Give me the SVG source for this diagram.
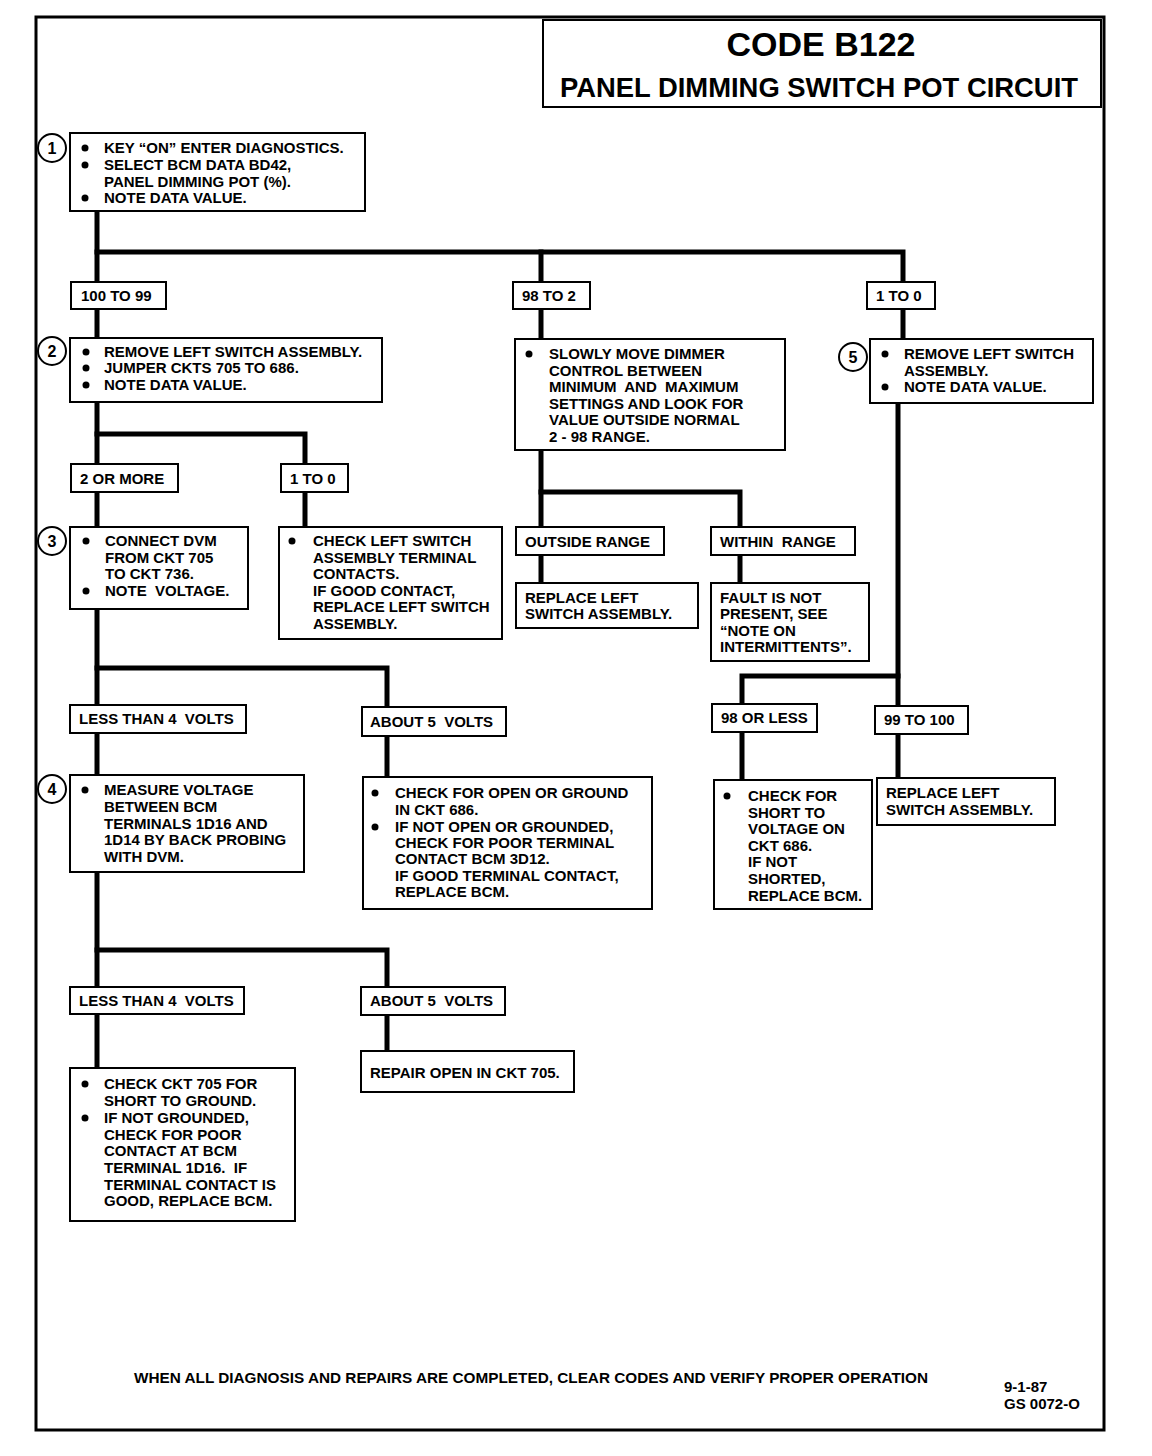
<svg xmlns="http://www.w3.org/2000/svg" width="1152" height="1456" viewBox="0 0 1152 1456">
<style>
  text { font-family: "Liberation Sans", Arial, sans-serif; font-weight: bold; font-size: 15px; fill: #000; white-space: pre; }
  .box { fill: #fff; stroke: #000; stroke-width: 2; }
  .conn { fill: none; stroke: #000; stroke-width: 5; stroke-linecap: square; }
  .num { font-size: 16px; text-anchor: middle; }
  .t1 { font-size: 34px; text-anchor: middle; }
  .t2 { font-size: 28px; text-anchor: middle; }
  .foot { font-size: 14px; }
  .date { font-size: 15px; }
  .frame { fill: none; stroke: #000; stroke-width: 3; }
</style>
<rect x="0" y="0" width="1152" height="1456" fill="#fff"/>
<rect class="frame" x="36" y="17" width="1068" height="1413"/>

<g id="title">
  <rect class="box" x="543" y="20" width="558" height="87"/>
  <text class="t1" x="821" y="56">CODE B122</text>
  <text class="t2" x="819" y="97" textLength="518" lengthAdjust="spacingAndGlyphs">PANEL DIMMING SWITCH POT CIRCUIT</text>
</g>

<g id="connectors">
  <path class="conn" d="M97 211 V1068"/>
  <path class="conn" d="M97 252 H903 V339"/>
  <path class="conn" d="M541 252 V583"/>
  <path class="conn" d="M97 434 H305 V527"/>
  <path class="conn" d="M541 492 H740 V583"/>
  <path class="conn" d="M898 403 V778"/>
  <path class="conn" d="M898 676 H742 V780"/>
  <path class="conn" d="M97 668 H387 V777"/>
  <path class="conn" d="M97 950 H387 V1051"/>
</g>

<g id="n1">
  <circle class="box" cx="52" cy="148" r="14"/>
  <text class="num" x="52" y="154">1</text>
  <rect class="box" x="70" y="133" width="295" height="78"/>
  <circle cx="85" cy="148" r="3.5"/><circle cx="85" cy="165" r="3.5"/><circle cx="85" cy="198" r="3.5"/>
  <text x="104" y="153">KEY “ON” ENTER DIAGNOSTICS.</text>
  <text x="104" y="170">SELECT BCM DATA BD42,</text>
  <text x="104" y="187">PANEL DIMMING POT (%).</text>
  <text x="104" y="203">NOTE DATA VALUE.</text>
</g>

<g id="l100to99">
  <rect class="box" x="71" y="282" width="95" height="27"/>
  <text x="81" y="301">100 TO 99</text>
</g>
<g id="l98to2">
  <rect class="box" x="513" y="282" width="77" height="27"/>
  <text x="522" y="301">98 TO 2</text>
</g>
<g id="l1to0a">
  <rect class="box" x="867" y="282" width="68" height="27"/>
  <text x="876" y="301">1 TO 0</text>
</g>

<g id="n2">
  <circle class="box" cx="52" cy="351" r="14"/>
  <text class="num" x="52" y="357">2</text>
  <rect class="box" x="70" y="338" width="312" height="64"/>
  <circle cx="86" cy="352" r="3.5"/><circle cx="86" cy="368" r="3.5"/><circle cx="86" cy="385" r="3.5"/>
  <text x="104" y="357">REMOVE LEFT SWITCH ASSEMBLY.</text>
  <text x="104" y="373">JUMPER CKTS 705 TO 686.</text>
  <text x="104" y="390">NOTE DATA VALUE.</text>
</g>

<g id="nslowly">
  <rect class="box" x="515" y="339" width="270" height="111"/>
  <circle cx="529" cy="354" r="3.5"/>
  <text x="549" y="359">SLOWLY MOVE DIMMER</text>
  <text x="549" y="376">CONTROL BETWEEN</text>
  <text x="549" y="392">MINIMUM  AND  MAXIMUM</text>
  <text x="549" y="409">SETTINGS AND LOOK FOR</text>
  <text x="549" y="425">VALUE OUTSIDE NORMAL</text>
  <text x="549" y="442">2 - 98 RANGE.</text>
</g>

<g id="n5">
  <circle class="box" cx="853" cy="357" r="14"/>
  <text class="num" x="853" y="363">5</text>
  <rect class="box" x="870" y="339" width="223" height="64"/>
  <circle cx="885" cy="354" r="3.5"/><circle cx="885" cy="387" r="3.5"/>
  <text x="904" y="359">REMOVE LEFT SWITCH</text>
  <text x="904" y="376">ASSEMBLY.</text>
  <text x="904" y="392">NOTE DATA VALUE.</text>
</g>

<g id="l2ormore">
  <rect class="box" x="71" y="464" width="107" height="28"/>
  <text x="80" y="484">2 OR MORE</text>
</g>
<g id="l1to0b">
  <rect class="box" x="281" y="464" width="67" height="28"/>
  <text x="290" y="484">1 TO 0</text>
</g>

<g id="n3">
  <circle class="box" cx="52" cy="541" r="14"/>
  <text class="num" x="52" y="547">3</text>
  <rect class="box" x="70" y="527" width="178" height="82"/>
  <circle cx="86" cy="541" r="3.5"/><circle cx="86" cy="591" r="3.5"/>
  <text x="105" y="546">CONNECT DVM</text>
  <text x="105" y="563">FROM CKT 705</text>
  <text x="105" y="579">TO CKT 736.</text>
  <text x="105" y="596">NOTE  VOLTAGE.</text>
</g>

<g id="ncheckleft">
  <rect class="box" x="279" y="527" width="223" height="112"/>
  <circle cx="292" cy="541" r="3.5"/>
  <text x="313" y="546">CHECK LEFT SWITCH</text>
  <text x="313" y="563">ASSEMBLY TERMINAL</text>
  <text x="313" y="579">CONTACTS.</text>
  <text x="313" y="596">IF GOOD CONTACT,</text>
  <text x="313" y="612">REPLACE LEFT SWITCH</text>
  <text x="313" y="629">ASSEMBLY.</text>
</g>

<g id="loutside">
  <rect class="box" x="516" y="527" width="148" height="28"/>
  <text x="525" y="547">OUTSIDE RANGE</text>
</g>
<g id="lwithin">
  <rect class="box" x="711" y="527" width="144" height="28"/>
  <text x="720" y="547">WITHIN  RANGE</text>
</g>

<g id="nreplace1">
  <rect class="box" x="516" y="583" width="182" height="45"/>
  <text x="525" y="603">REPLACE LEFT</text>
  <text x="525" y="619">SWITCH ASSEMBLY.</text>
</g>

<g id="nfault">
  <rect class="box" x="711" y="583" width="158" height="78"/>
  <text x="720" y="603">FAULT IS NOT</text>
  <text x="720" y="619">PRESENT, SEE</text>
  <text x="720" y="636">“NOTE ON</text>
  <text x="720" y="652">INTERMITTENTS”.</text>
</g>

<g id="lless1">
  <rect class="box" x="70" y="705" width="176" height="28"/>
  <text x="79" y="724">LESS THAN 4  VOLTS</text>
</g>
<g id="labout1">
  <rect class="box" x="362" y="707" width="144" height="29"/>
  <text x="370" y="727">ABOUT 5  VOLTS</text>
</g>
<g id="l98orless">
  <rect class="box" x="712" y="704" width="105" height="28"/>
  <text x="721" y="723">98 OR LESS</text>
</g>
<g id="l99to100">
  <rect class="box" x="875" y="706" width="93" height="28"/>
  <text x="884" y="725">99 TO 100</text>
</g>

<g id="n4">
  <circle class="box" cx="52" cy="789" r="14"/>
  <text class="num" x="52" y="795">4</text>
  <rect class="box" x="70" y="775" width="234" height="97"/>
  <circle cx="85" cy="790" r="3.5"/>
  <text x="104" y="795">MEASURE VOLTAGE</text>
  <text x="104" y="812">BETWEEN BCM</text>
  <text x="104" y="829">TERMINALS 1D16 AND</text>
  <text x="104" y="845">1D14 BY BACK PROBING</text>
  <text x="104" y="862">WITH DVM.</text>
</g>

<g id="ncheckopen">
  <rect class="box" x="363" y="777" width="289" height="132"/>
  <circle cx="375" cy="793" r="3.5"/><circle cx="375" cy="827" r="3.5"/>
  <text x="395" y="798">CHECK FOR OPEN OR GROUND</text>
  <text x="395" y="815">IN CKT 686.</text>
  <text x="395" y="832">IF NOT OPEN OR GROUNDED,</text>
  <text x="395" y="848">CHECK FOR POOR TERMINAL</text>
  <text x="395" y="864">CONTACT BCM 3D12.</text>
  <text x="395" y="881">IF GOOD TERMINAL CONTACT,</text>
  <text x="395" y="897">REPLACE BCM.</text>
</g>

<g id="ncheckshort">
  <rect class="box" x="714" y="780" width="158" height="129"/>
  <circle cx="727" cy="796" r="3.5"/>
  <text x="748" y="801">CHECK FOR</text>
  <text x="748" y="818">SHORT TO</text>
  <text x="748" y="834">VOLTAGE ON</text>
  <text x="748" y="851">CKT 686.</text>
  <text x="748" y="867">IF NOT</text>
  <text x="748" y="884">SHORTED,</text>
  <text x="748" y="901">REPLACE BCM.</text>
</g>

<g id="nreplace2">
  <rect class="box" x="877" y="778" width="178" height="47"/>
  <text x="886" y="798">REPLACE LEFT</text>
  <text x="886" y="815">SWITCH ASSEMBLY.</text>
</g>

<g id="lless2">
  <rect class="box" x="70" y="987" width="174" height="27"/>
  <text x="79" y="1006">LESS THAN 4  VOLTS</text>
</g>
<g id="labout2">
  <rect class="box" x="361" y="987" width="144" height="28"/>
  <text x="370" y="1006">ABOUT 5  VOLTS</text>
</g>

<g id="nrepair">
  <rect class="box" x="361" y="1051" width="213" height="41"/>
  <text x="370" y="1078">REPAIR OPEN IN CKT 705.</text>
</g>

<g id="ncheck705">
  <rect class="box" x="70" y="1068" width="225" height="153"/>
  <circle cx="85" cy="1084" r="3.5"/><circle cx="85" cy="1118" r="3.5"/>
  <text x="104" y="1089">CHECK CKT 705 FOR</text>
  <text x="104" y="1106">SHORT TO GROUND.</text>
  <text x="104" y="1123">IF NOT GROUNDED,</text>
  <text x="104" y="1140">CHECK FOR POOR</text>
  <text x="104" y="1156">CONTACT AT BCM</text>
  <text x="104" y="1173">TERMINAL 1D16.  IF</text>
  <text x="104" y="1190">TERMINAL CONTACT IS</text>
  <text x="104" y="1206">GOOD, REPLACE BCM.</text>
</g>

<g id="footer">
  <text class="foot" x="134" y="1383" textLength="794" lengthAdjust="spacingAndGlyphs">WHEN ALL DIAGNOSIS AND REPAIRS ARE COMPLETED, CLEAR CODES AND VERIFY PROPER OPERATION</text>
  <text class="date" x="1004" y="1392">9-1-87</text>
  <text class="date" x="1004" y="1409">GS 0072-O</text>
</g>
</svg>
